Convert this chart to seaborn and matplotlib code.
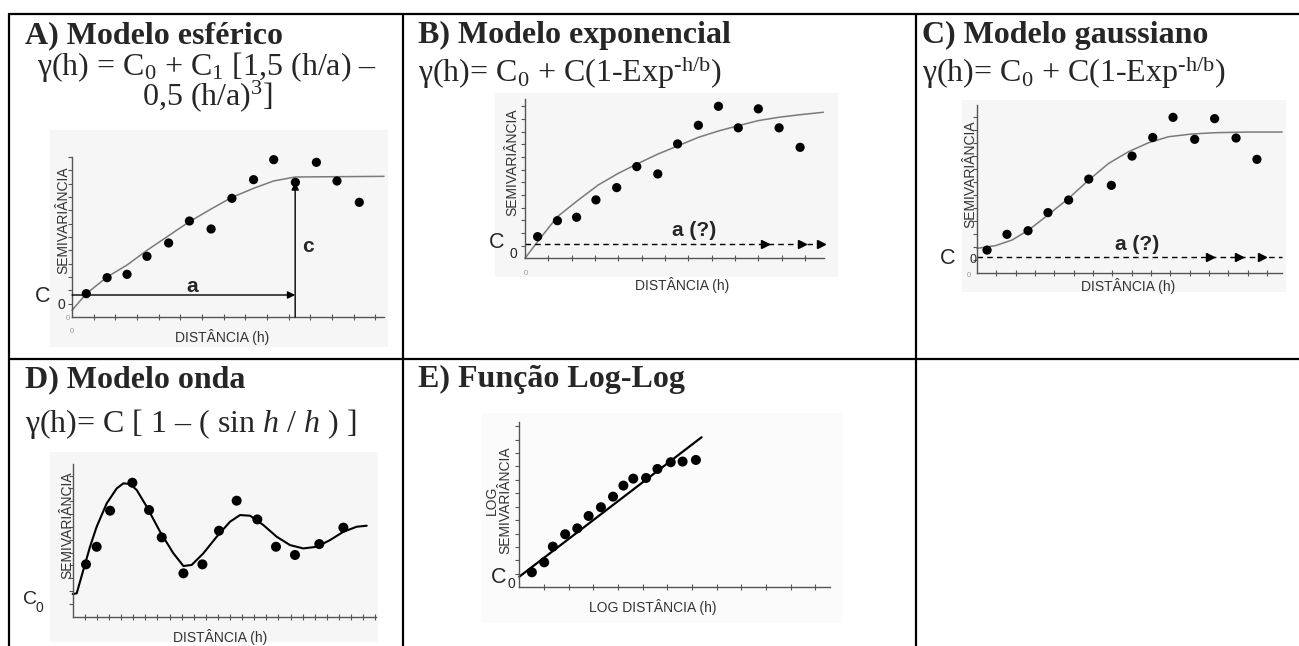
import numpy as np
import matplotlib
matplotlib.use("Agg")
import matplotlib.pyplot as plt
from matplotlib.lines import Line2D
import seaborn as sns

# dados (unidades = intervalos entre marcas dos eixos)
# A) modelo esférico
a_dist = [0.66, 1.62, 2.54, 3.46, 4.46, 5.42, 6.42, 7.38, 8.38, 9.31, 10.31, 11.28, 12.23, 13.26]
a_semi = [1.75, 2.95, 3.2, 4.55, 5.55, 7.2, 6.6, 8.9, 10.3, 11.8, 10.1, 11.6, 10.2, 8.6]
a_curve_h = [0, 0.66, 1.62, 2.54, 3.46, 4.46, 5.42, 6.42, 7.35, 8.38, 9.3, 10.3, 14.4]
a_curve_g = [0.5, 1.75, 3.0, 3.9, 5.0, 6.1, 7.15, 8.1, 8.95, 9.65, 10.2, 10.5, 10.55]
a_range, a_c0, a_sill_arrow = 10.3, 1.65, 10.1

# B) modelo exponencial
b_dist = [0.54, 1.39, 2.21, 3.04, 3.93, 4.79, 5.69, 6.54, 7.43, 8.29, 9.14, 10.0, 10.89, 11.79]
b_semi = [1.71, 2.97, 3.24, 4.61, 5.58, 7.24, 6.66, 9.03, 10.5, 12.0, 10.3, 11.8, 10.3, 8.76]
b_curve_h = [0, 0.57, 1.39, 2.29, 3.14, 4.0, 4.86, 5.71, 6.57, 7.43, 8.29, 9.14, 10.0, 10.86, 11.71, 12.79]
b_curve_g = [0, 1.39, 3.29, 4.61, 5.79, 6.71, 7.5, 8.24, 8.89, 9.55, 10.05, 10.47, 10.87, 11.13, 11.32, 11.53]
b_c0, b_heads = 1.13, [10.3, 11.86, 12.7]

# C) modelo gaussiano
c_dist = [0.52, 1.55, 2.64, 3.67, 4.74, 5.78, 6.95, 8.02, 9.09, 10.14, 11.26, 12.29, 13.40, 14.48]
c_semi = [1.74, 2.95, 3.23, 4.62, 5.59, 7.2, 6.72, 8.97, 10.4, 11.95, 10.26, 11.85, 10.36, 8.72]
c_curve_h = [0, 0.95, 1.81, 2.67, 3.67, 4.74, 5.78, 6.81, 7.84, 8.88, 9.91, 11.12, 12.33, 14.05, 15.78]
c_curve_g = [1.87, 2.08, 2.51, 3.28, 4.44, 5.72, 7.13, 8.41, 9.31, 10.0, 10.46, 10.67, 10.77, 10.82, 10.82]
c_c0, c_heads = 1.18, [12.07, 13.53, 14.74]

# D) modelo onda
d_dist = [1.10, 1.98, 3.09, 4.93, 6.31, 7.36, 9.15, 10.72, 12.09, 13.55, 15.26, 16.80, 18.37, 20.38, 22.37]
d_semi = [4.08, 5.45, 8.26, 10.44, 8.31, 6.18, 3.38, 4.08, 6.70, 9.04, 7.58, 5.45, 4.81, 5.66, 6.94]
d_curve_h = [0, 0.33, 0.88, 1.43, 1.98, 2.81, 3.64, 4.19, 4.74, 5.29, 6.12, 7.22, 8.32, 9.15, 9.83,
             10.80, 11.90, 13.00, 13.83, 14.66, 15.76, 16.86, 17.96, 19.06, 20.17, 21.27, 22.37, 23.47, 24.30]
d_curve_g = [1.77, 1.82, 3.64, 5.45, 7.01, 8.83, 10.0, 10.39, 10.34, 9.87, 8.57, 6.62, 4.94, 3.95, 4.03,
             4.94, 6.23, 7.40, 7.92, 7.87, 7.14, 6.23, 5.58, 5.32, 5.45, 5.97, 6.62, 7.01, 7.09]

# E) função log-log
e_logdist = [0.51, 1.01, 1.36, 1.86, 2.35, 2.81, 3.31, 3.80, 4.22, 4.62, 5.14, 5.60, 6.14, 6.62, 7.16]
e_logsemi = [1.12, 1.86, 3.03, 3.95, 4.39, 5.31, 5.96, 6.75, 7.57, 8.09, 8.14, 8.81, 9.31, 9.36, 9.48]
e_fit_x = [0, 7.39]
e_fit_y = [0.79, 11.17]

W, H = 1299, 646
sns.set_theme(style="white")
plt.rcParams["font.family"] = ["Liberation Sans", "DejaVu Sans"]
plt.rcParams["mathtext.fontset"] = "custom"
plt.rcParams["mathtext.rm"] = "Liberation Serif"
plt.rcParams["mathtext.it"] = "Liberation Serif:italic"
plt.rcParams["mathtext.default"] = "regular"

fig = plt.figure(figsize=(W / 100, H / 100), dpi=100)
fig.patch.set_facecolor("white")

SERIF = "Liberation Serif"
SANS = "Liberation Sans"
AXC = "#555555"
LBL = 10      # rótulos dos eixos
BIG = 15.5    # "C" do efeito pepita
ANN = 15      # "a", "c", "a (?)"


def ptext(x, y, s, **kw):
    return fig.text(x / W, 1 - y / H, s, **kw)


def hline(x0, x1, y):
    fig.add_artist(Line2D([x0 / W, x1 / W], [1 - y / H] * 2, transform=fig.transFigure,
                          color="black", lw=1.6))


def vline(x, y0, y1):
    fig.add_artist(Line2D([x / W] * 2, [1 - y0 / H, 1 - y1 / H], transform=fig.transFigure,
                          color="black", lw=1.6))


def panel(bg, origin, unit, xmax, ymax, face="#f6f6f6"):
    x0, y0, x1, y1 = bg
    ox, oy = origin
    ux, uy = unit
    ax = fig.add_axes([x0 / W, 1 - y1 / H, (x1 - x0) / W, (y1 - y0) / H])
    ax.set_facecolor(face)
    for s in ("top", "right"):
        ax.spines[s].set_visible(False)
    for s in ("left", "bottom"):
        ax.spines[s].set_position(("data", 0))
        ax.spines[s].set_color(AXC)
        ax.spines[s].set_linewidth(1.0)
    ax.spines["left"].set_bounds(0, ymax)
    ax.spines["bottom"].set_bounds(0, xmax)
    ax.set_xticks(np.arange(1, int(xmax) + 1))
    ax.set_yticks(np.arange(1, int(ymax) + 1))
    ax.tick_params(axis="x", bottom=True, direction="inout", length=4, width=0.8,
                   color=AXC, labelbottom=False)
    ax.tick_params(axis="y", left=True, direction="out", length=3, width=0.8,
                   color=AXC, labelleft=False)
    lims = ((x0 - ox) / ux, (x1 - ox) / ux), ((oy - y1) / uy, (oy - y0) / uy)
    return ax, lims


def finish(ax, lims):
    ax.set_xlim(*lims[0])
    ax.set_ylim(*lims[1])
    ax.set_xlabel("")
    ax.set_ylabel("")


# ---------- tabela ----------
hline(9, W, 14)
hline(9, W, 359)
vline(9, 14, H)
vline(403, 14, H)
vline(916, 14, H)

TFS = 23
EXP = "γ(h)= C$_0$ + C(1-Exp$^{\u2010h/b}$)"
# ---------- A ----------
ptext(25, 43, "A) Modelo esférico", family=SERIF, fontsize=TFS, fontweight="bold", va="baseline")
ptext(207, 50, "γ(h) = C$_0$ + C$_1$ [1,5 (h/a) –\n0,5 (h/a)$^3$]", family=SERIF, fontsize=TFS,
      va="top", ha="center", multialignment="center", linespacing=0.8)

ax, lims = panel((50, 130, 388, 347), (72, 317), (65 / 3, 40 / 3), 14.4, 12)
sns.lineplot(x=a_curve_h, y=a_curve_g, ax=ax, color="#7a7a7a", lw=1.1, sort=False, estimator=None)
sns.scatterplot(x=a_dist, y=a_semi, ax=ax, color="black", s=44, edgecolor="none", zorder=3)
ax.annotate("", xy=(a_range, a_c0), xytext=(0, a_c0),
            arrowprops=dict(arrowstyle="-|>", color="black", lw=1.0, mutation_scale=11, shrinkA=0, shrinkB=0))
ax.annotate("", xy=(a_range, a_sill_arrow), xytext=(a_range, 0),
            arrowprops=dict(arrowstyle="-|>", color="black", lw=1.0, mutation_scale=11, shrinkA=0, shrinkB=0))
finish(ax, lims)
ptext(192, 292, "a", family=SANS, fontsize=ANN, fontweight="bold", ha="center", va="baseline")
ptext(308, 252, "c", family=SANS, fontsize=ANN, fontweight="bold", ha="center", va="baseline")
ptext(35, 302, "C", family=SANS, fontsize=BIG, va="baseline")
ptext(58, 309, "0", family=SANS, fontsize=10, va="baseline")
ptext(66, 320, "0", family=SANS, fontsize=5.5, color="#999999", va="baseline")
ptext(72, 333, "0", family=SANS, fontsize=5.5, color="#999999", va="baseline", ha="center")
ptext(63, 220, "SEMIVARIÂNCIA", family=SANS, fontsize=LBL, color="#333333", rotation=90, ha="center", va="center")
ptext(222, 337, "DISTÂNCIA (h)", family=SANS, fontsize=LBL, color="#333333", ha="center", va="center")

# ---------- B ----------
ptext(418, 43, "B) Modelo exponencial", family=SERIF, fontsize=TFS, fontweight="bold", va="baseline")
ptext(418, 82, EXP, family=SERIF, fontsize=TFS, va="baseline")

ax, lims = panel((495, 93, 838, 277), (525, 258.3), (70 / 3, 38 / 3), 12.8, 12.6)
sns.lineplot(x=b_curve_h, y=b_curve_g, ax=ax, color="#7a7a7a", lw=1.1, sort=False, estimator=None)
sns.scatterplot(x=b_dist, y=b_semi, ax=ax, color="black", s=44, edgecolor="none", zorder=3)
ax.plot([0, 12.8], [b_c0, b_c0], color="black", lw=1.0, ls=(0, (4, 3)))
ax.plot(b_heads, [b_c0] * len(b_heads), ls="none", marker=">", color="black", markersize=6)
finish(ax, lims)
ptext(694, 236, "a (?)", family=SANS, fontsize=ANN, fontweight="bold", ha="center", va="baseline")
ptext(489, 248, "C", family=SANS, fontsize=BIG, va="baseline")
ptext(510, 258, "0", family=SANS, fontsize=10, va="baseline")
ptext(526, 275, "0", family=SANS, fontsize=5.5, color="#999999", va="baseline", ha="center")
ptext(512, 162, "SEMIVARIÂNCIA", family=SANS, fontsize=LBL, color="#333333", rotation=90, ha="center", va="center")
ptext(682, 285, "DISTÂNCIA (h)", family=SANS, fontsize=LBL, color="#333333", ha="center", va="center")

# ---------- C ----------
ptext(922, 43, "C) Modelo gaussiano", family=SERIF, fontsize=TFS, fontweight="bold", va="baseline")
ptext(922, 82, EXP, family=SERIF, fontsize=TFS, va="baseline")

ax, lims = panel((962, 100, 1286, 292), (977, 272.7), (58 / 3, 39 / 3), 15.8, 12.9)
sns.lineplot(x=c_curve_h, y=c_curve_g, ax=ax, color="#7a7a7a", lw=1.1, sort=False, estimator=None)
sns.scatterplot(x=c_dist, y=c_semi, ax=ax, color="black", s=44, edgecolor="none", zorder=3)
ax.plot([0, 15.8], [c_c0, c_c0], color="black", lw=1.0, ls=(0, (4, 3)))
ax.plot(c_heads, [c_c0] * len(c_heads), ls="none", marker=">", color="black", markersize=6)
finish(ax, lims)
ptext(1137, 250, "a (?)", family=SANS, fontsize=ANN, fontweight="bold", ha="center", va="baseline")
ptext(940, 264, "C", family=SANS, fontsize=BIG, va="baseline")
ptext(970, 263, "0", family=SANS, fontsize=9, va="baseline")
ptext(969, 277, "0", family=SANS, fontsize=5.5, color="#999999", va="baseline", ha="center")
ptext(970, 174, "SEMIVARIÂNCIA", family=SANS, fontsize=LBL, color="#333333", rotation=90, ha="center", va="center")
ptext(1128, 286, "DISTÂNCIA (h)", family=SANS, fontsize=LBL, color="#333333", ha="center", va="center")

# ---------- D ----------
ptext(25, 387, "D) Modelo onda", family=SERIF, fontsize=TFS, fontweight="bold", va="baseline")
ptext(25, 432, r"γ(h)= C [ 1 – ( sin $\mathit{h}$ / $\mathit{h}$ ) ]", family=SERIF, fontsize=TFS, va="baseline")

ax, lims = panel((50, 452, 378, 642), (72.7, 616.7), (36.3 / 3, 38.5 / 3), 25.1, 11.9)
sns.lineplot(x=d_curve_h, y=d_curve_g, ax=ax, color="black", lw=1.5, sort=False, estimator=None)
sns.scatterplot(x=d_dist, y=d_semi, ax=ax, color="black", s=52, edgecolor="none", zorder=3)
finish(ax, lims)
ptext(23, 604, "C", family=SANS, fontsize=14, va="baseline")
ptext(36, 612, "0", family=SANS, fontsize=10, va="baseline")
ptext(67, 525, "SEMIVARIÂNCIA", family=SANS, fontsize=LBL, color="#333333", rotation=90, ha="center", va="center")
ptext(220, 637, "DISTÂNCIA (h)", family=SANS, fontsize=LBL, color="#333333", ha="center", va="center")

# ---------- E ----------
ptext(418, 387, "E) Função Log-Log", family=SERIF, fontsize=TFS, fontweight="bold", va="baseline")

ax, lims = panel((482, 413, 843, 623), (519.3, 587.3), (74 / 3, 40.3 / 3), 12.6, 12.3, face="#fbfbfb")
sns.lineplot(x=e_fit_x, y=e_fit_y, ax=ax, color="black", lw=1.6, sort=False, estimator=None)
sns.scatterplot(x=e_logdist, y=e_logsemi, ax=ax, color="black", s=52, edgecolor="none", zorder=3)
finish(ax, lims)
ptext(491, 583, "C", family=SANS, fontsize=BIG, va="baseline")
ptext(508, 588, "0", family=SANS, fontsize=10, va="baseline")
ptext(499, 500, "LOG\nSEMIVARIÂNCIA", family=SANS, fontsize=LBL, color="#333333", rotation=90,
      ha="center", va="center", multialignment="center", linespacing=0.95)
ptext(653, 607, "LOG DISTÂNCIA (h)", family=SANS, fontsize=LBL, color="#333333", ha="center", va="center")

fig.savefig("out.png", dpi=100)
